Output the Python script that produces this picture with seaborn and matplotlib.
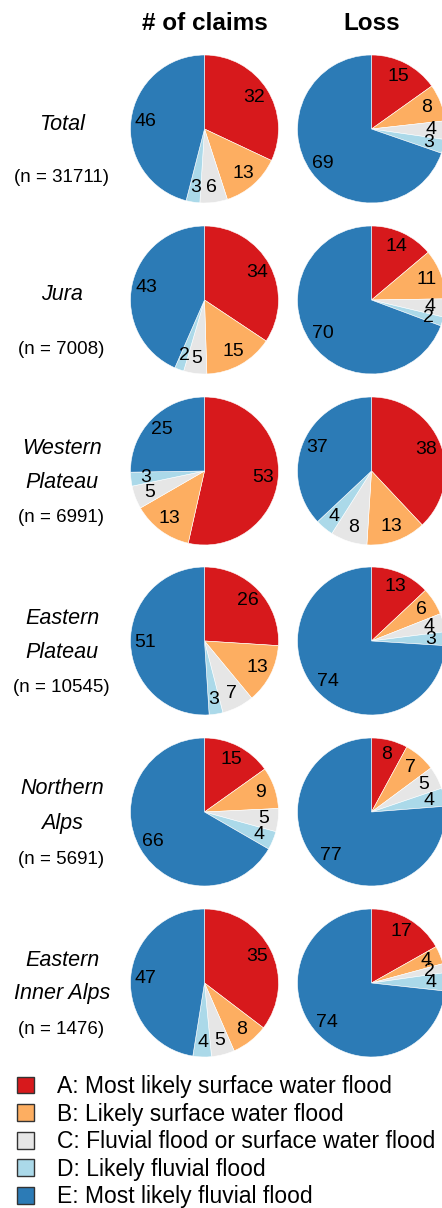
import matplotlib
matplotlib.use("Agg")
import matplotlib.pyplot as plt
from matplotlib.patches import Patch
import seaborn as sns

# ---------------- data ----------------
categories = ["A: Most likely surface water flood",
              "B: Likely surface water flood",
              "C: Fluvial flood or surface water flood",
              "D: Likely fluvial flood",
              "E: Most likely fluvial flood"]
colors = ["#D7191C", "#FDAE61", "#E6E6E6", "#ABD9E9", "#2C7BB6"]

regions = ["Total", "Jura", "Western\nPlateau", "Eastern\nPlateau",
           "Northern\nAlps", "Eastern\nInner Alps"]
counts = [31711, 7008, 6991, 10545, 5691, 1476]

claims_total = [32, 13, 6, 3, 46]
claims_jura = [34, 15, 5, 2, 43]
claims_wplateau = [53, 13, 5, 3, 25]
claims_eplateau = [26, 13, 7, 3, 51]
claims_nalps = [15, 9, 5, 4, 66]
claims_eialps = [35, 8, 5, 4, 47]

loss_total = [15, 8, 4, 3, 69]
loss_jura = [14, 11, 4, 2, 70]
loss_wplateau = [38, 13, 8, 4, 37]
loss_eplateau = [13, 6, 4, 3, 74]
loss_nalps = [8, 7, 5, 4, 77]
loss_eialps = [17, 4, 2, 4, 74]

claims = [claims_total, claims_jura, claims_wplateau, claims_eplateau,
          claims_nalps, claims_eialps]
losses = [loss_total, loss_jura, loss_wplateau, loss_eplateau,
          loss_nalps, loss_eialps]
col_titles = ["# of claims", "Loss"]

# ---------------- style ----------------
sns.set_theme(style="white")
plt.rcParams["font.family"] = ["Liberation Sans", "DejaVu Sans"]
plt.rcParams["text.color"] = "black"

W, H = 442, 1208
fig = plt.figure(figsize=(W / 100, H / 100), dpi=100)
fig.patch.set_facecolor("white")

R = 74.0           # pie radius in px
col_x = [204.5, 371.5]
row_y = [129, 300, 471, 641, 812, 983]
half = 80.0


def draw_pie(cx, cy, vals):
    ax = fig.add_axes([(cx - half) / W, 1 - (cy + half) / H,
                       2 * half / W, 2 * half / H])
    it = iter(vals)
    ax.pie(vals, colors=colors, startangle=90, counterclock=False,
           radius=1.0, autopct=lambda p: str(next(it)), pctdistance=0.8,
           wedgeprops=dict(edgecolor="white", linewidth=0.4),
           textprops=dict(fontsize=14, color="black"))
    lim = half / R
    ax.set_xlim(-lim, lim)
    ax.set_ylim(-lim, lim)
    ax.set_aspect("equal")
    ax.axis("off")
    return ax


for i in range(len(regions)):
    draw_pie(col_x[0], row_y[i], claims[i])
    draw_pie(col_x[1], row_y[i], losses[i])

    name = regions[i]
    cy = row_y[i]
    if "\n" in name:
        l1, l2 = name.split("\n")
        fig.text(62 / W, 1 - (cy - 23) / H, l1, ha="center", va="center",
                 fontsize=15.5, style="italic")
        fig.text(62 / W, 1 - (cy + 11) / H, l2, ha="center", va="center",
                 fontsize=15.5, style="italic")
        fig.text(61 / W, 1 - (cy + 47) / H, f"(n = {counts[i]})",
                 ha="center", va="center", fontsize=13.5)
    else:
        fig.text(62 / W, 1 - (cy - 5) / H, name, ha="center", va="center",
                 fontsize=15.5, style="italic")
        fig.text(61 / W, 1 - (cy + 49) / H, f"(n = {counts[i]})",
                 ha="center", va="center", fontsize=13.5)

for x, t in zip(col_x, col_titles):
    fig.text(x / W, 1 - 24 / H, t, ha="center", va="center",
             fontsize=17.5, fontweight="bold")

handles = [Patch(facecolor=c, edgecolor="#333333", linewidth=1.0)
           for c in colors]
fig.legend(handles, categories, loc="upper left",
           bbox_to_anchor=(17 / W, 1 - 1075 / H), frameon=False,
           fontsize=16.5, handlelength=0.75, handleheight=0.75,
           handletextpad=1.0, labelspacing=0.2, borderpad=0,
           borderaxespad=0, labelcolor="black")

fig.savefig("out.png", dpi=100, facecolor="white")
